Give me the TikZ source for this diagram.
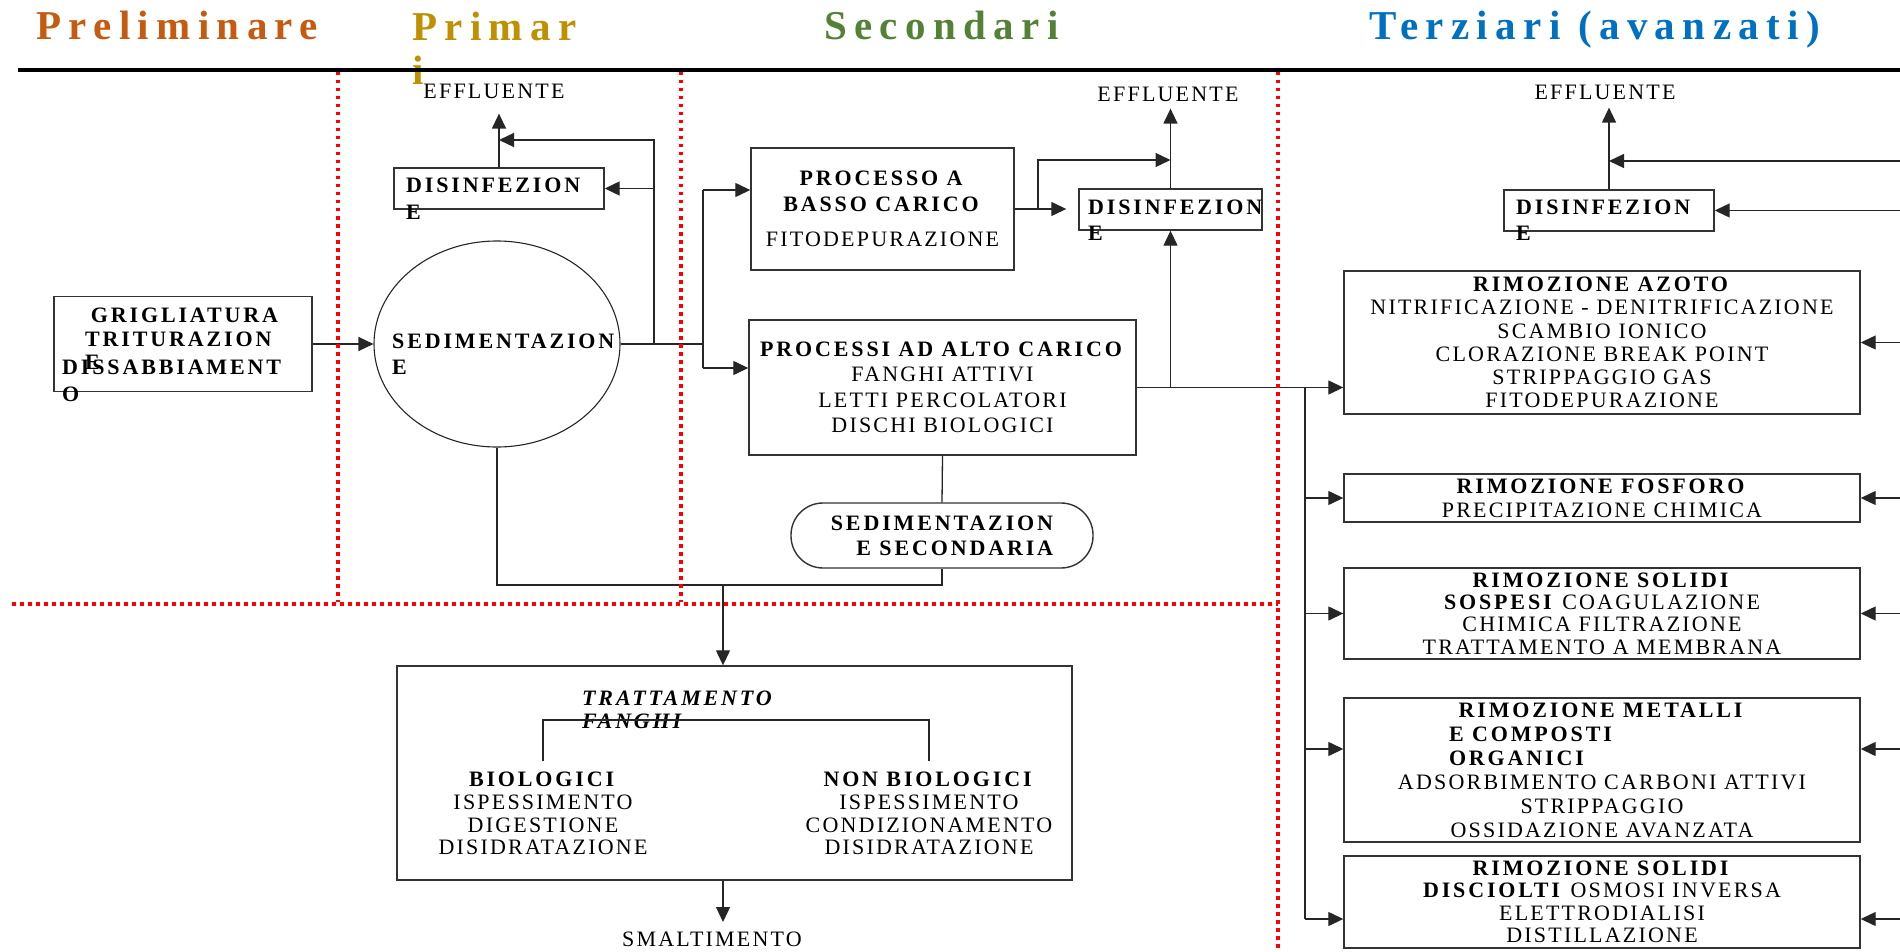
\documentclass[tikz,border=0pt]{standalone}
\usepackage{fontspec}
\setmainfont[LetterSpace=10, BoldFeatures={LetterSpace=13}, BoldItalicFeatures={LetterSpace=13}]{Liberation Serif}
\newfontfamily\titlefont[LetterSpace=18]{Liberation Serif}
\usetikzlibrary{arrows.meta,shapes.geometric,positioning}
\definecolor{wworange}{HTML}{C55A11}
\definecolor{wwgold}{HTML}{BF9000}
\definecolor{wwgreen}{HTML}{538135}
\definecolor{wwblue}{HTML}{0070C0}
\newcommand{\bodyfs}[1]{\fontsize{22}{#1}\selectfont}

\begin{document}
\begin{tikzpicture}[x=1pt, y=-1pt,
  phase/.style={font=\titlefont\bfseries\fontsize{41}{44}\selectfont, inner sep=0pt},
  box/.style={draw=black!80, line width=1.4pt, inner sep=0pt, align=center},
  lbl/.style={inner sep=0pt, align=center, font=\bodyfs{24}},
  conn/.style={draw=black!85, line width=1.3pt},
  arr/.style={conn, -{Triangle[length=15pt,width=14pt]}},
  divider/.style={draw=red, line width=3.5pt, dash pattern=on 3.5pt off 4.5pt}]
  \useasboundingbox (0,0) rectangle (1900,952);

  \node[phase, text=wworange, anchor=base west] (hprel) at (36,40) {Preliminare};
  \node[phase, text=wwgold, anchor=north west, align=left] (hprim) at (412,12) {Primar\\i};
  \node[phase, text=wwgreen, anchor=base west] (hsec) at (824,40) {Secondari};
  \node[phase, text=wwblue, anchor=base west] (hter) at (1369,40) {Terziari (avanzati)};
  \draw[line width=3.5pt] (18,70) -- (1900,70);

  \node[box, minimum width=258pt, minimum height=95pt] (grig) at (183,344) {};
  \node[lbl, font=\bodyfs{24}\bfseries, anchor=north] (grigA) at (184.5,308) {GRIGLIATURA};
  \node[lbl, font=\bodyfs{23}\bfseries, align=left, anchor=north west] (grigB) at (85,332) {TRITURAZION\\E};
  \node[lbl, font=\bodyfs{27}\bfseries, align=left, anchor=north west] (grigC) at (62,360) {DISSABBIAMENT\\O};

  \node[ellipse, draw=black!85, line width=1.1pt, minimum width=246pt, minimum height=206pt, inner sep=0pt] (sed) at (497,344) {};
  \node[lbl, font=\bodyfs{26}\bfseries, align=left, anchor=north west] (sedT) at (392,334) {SEDIMENTAZION\\E};

  \node[box, minimum width=210pt, minimum height=41pt] (dis1) at (499,188.5) {};
  \node[lbl, font=\bodyfs{27}\bfseries, align=left, anchor=north west] (dis1T) at (406,178) {DISINFEZION\\E};
  \node[lbl, anchor=north] (eff1) at (494,84) {EFFLUENTE};

  \node[box, font=\bodyfs{26}, minimum width=263pt, minimum height=122pt] (basso) at (882.5,209) {\textbf{PROCESSO A}\\\textbf{BASSO CARICO}\\[9pt]FITODEPURAZIONE};
  \node[box, font=\bodyfs{25.5}, minimum width=387pt, minimum height=135pt] (alto) at (942.5,387.5) {\textbf{PROCESSI AD ALTO CARICO}\\FANGHI ATTIVI\\LETTI PERCOLATORI\\DISCHI BIOLOGICI};
  \node[box, font=\bodyfs{25}\bfseries, align=right, rounded corners=32pt, minimum width=302pt, minimum height=65pt] (sedsec) at (942,535.5) {SEDIMENTAZION\\E SECONDARIA};

  \node[box, minimum width=183pt, minimum height=41pt] (dis2) at (1170.5,209.5) {};
  \node[lbl, font=\bodyfs{26}\bfseries, align=left, anchor=north west] (dis2T) at (1088,200) {DISINFEZION\\E};
  \node[lbl, anchor=north] (eff2) at (1168,87) {EFFLUENTE};

  \node[box, minimum width=675pt, minimum height=214pt] (tratt) at (734.5,773) {};
  \node[lbl, font=\bodyfs{23}\bfseries\itshape, align=left, anchor=north west] (trattT) at (582,691) {TRATTAMENTO\\FANGHI};
  \node[lbl, font=\bodyfs{22.7}, anchor=north] (bio) at (543,772) {\textbf{BIOLOGICI}\\ISPESSIMENTO\\DIGESTIONE\\DISIDRATAZIONE};
  \node[lbl, font=\bodyfs{22.7}, anchor=north] (nbio) at (929,772) {\textbf{NON BIOLOGICI}\\ISPESSIMENTO\\CONDIZIONAMENTO\\DISIDRATAZIONE};
  \node[lbl, anchor=north] (smalt) at (712,932) {SMALTIMENTO};

  \node[box, minimum width=210pt, minimum height=41pt] (dis3) at (1609,210.5) {};
  \node[lbl, font=\bodyfs{26}\bfseries, align=left, anchor=north west] (dis3T) at (1516,200) {DISINFEZION\\E};
  \node[lbl, anchor=north] (eff3) at (1605,85) {EFFLUENTE};

  \node[box, font=\bodyfs{23.2}, minimum width=516pt, minimum height=143pt] (azoto) at (1602,342.5) {\textbf{RIMOZIONE AZOTO}\\NITRIFICAZIONE - DENITRIFICAZIONE\\SCAMBIO IONICO\\CLORAZIONE BREAK POINT\\STRIPPAGGIO GAS\\FITODEPURAZIONE};
  \node[box, font=\bodyfs{24}, minimum width=516pt, minimum height=48pt] (fosforo) at (1602,498) {\textbf{RIMOZIONE FOSFORO}\\PRECIPITAZIONE CHIMICA};
  \node[box, font=\bodyfs{22.3}, minimum width=516pt, minimum height=91pt] (sospesi) at (1602,613.5) {\textbf{RIMOZIONE SOLIDI}\\\textbf{SOSPESI} COAGULAZIONE\\CHIMICA FILTRAZIONE\\TRATTAMENTO A MEMBRANA};
  \node[box, font=\bodyfs{24}, minimum width=516pt, minimum height=144pt] (metalli) at (1602,770) {\textbf{RIMOZIONE METALLI}\\\makebox[306pt][l]{\textbf{E COMPOSTI}}\\\makebox[306pt][l]{\textbf{ORGANICI}}\\ADSORBIMENTO CARBONI ATTIVI\\STRIPPAGGIO\\OSSIDAZIONE AVANZATA};
  \node[box, font=\bodyfs{22.5}, minimum width=516pt, minimum height=92pt] (disciolti) at (1602,902) {\textbf{RIMOZIONE SOLIDI}\\\textbf{DISCIOLTI} OSMOSI INVERSA\\ELETTRODIALISI\\DISTILLAZIONE};

  \coordinate (j1) at (654,344);
  \coordinate (j2) at (703,344);
  \coordinate (k1) at (499,140);
  \coordinate (b1) at (703,190);
  \coordinate (b2) at (703,368);
  \coordinate (j3) at (1038,209);
  \coordinate (k2) at (1170.5,160);
  \coordinate (k3) at (1609,161);
  \coordinate (fj) at (723,585);
  \coordinate (tf) at (735,720);
  \coordinate (bus) at (1305,387.5);
  \coordinate (m1) at (1305,749);
  \coordinate (busend) at (1305,919);
  \coordinate (edge) at (1900,0);

  \draw[arr] (grig.east) -- (sed.west);
  \draw[conn] (sed.east) -- (j2);
  \draw[arr] (j1) |- (k1);
  \draw[arr] (j1 |- dis1.east) -- (dis1.east);
  \draw[arr, shorten >=14.6pt] (dis1.north) -- (dis1.north |- eff1.south);
  \draw[conn] (b1) -- (b2);
  \draw[arr] (b1) -- (b1 -| basso.west);
  \draw[arr] (b2) -- (b2 -| alto.west);
  \draw[arr, shorten >=12pt] (basso.east) -- (basso.east -| dis2.west);
  \draw[arr] (j3) |- (k2);
  \draw[arr, shorten >=6.6pt] (dis2.north) -- (dis2.north |- eff2.south);
  \draw[arr] (alto.east -| dis2.south) -- (dis2.south);
  \draw[arr] (alto.east) -- (alto.east -| azoto.west);
  \draw[conn] (alto.south) -- (sedsec.north);
  \draw[conn] (sed.south) -- (sed.south |- fj) -| (sedsec.south);
  \draw[arr] (fj) -- (fj |- tratt.north);
  \draw[conn, shorten <=11pt, shorten >=11pt] (bio.north) |- (tf) -| (nbio.north);
  \draw[arr, shorten >=10pt] (tratt.south -| fj) -- (fj |- smalt.north);

  \draw[conn] (bus) -- (busend);
  \draw[arr] (fosforo.west -| bus) -- (fosforo.west);
  \draw[arr] (sospesi.west -| bus) -- (sospesi.west);
  \draw[arr] (m1) -- (m1 -| metalli.west);
  \draw[arr] (busend) -- (busend -| disciolti.west);

  \draw[arr] (k3 -| edge) -- (k3);
  \draw[arr] (dis3.east -| edge) -- (dis3.east);
  \draw[arr, shorten >=7.6pt] (dis3.north) -- (dis3.north |- eff3.south);
  \draw[arr] (azoto.east -| edge) -- (azoto.east);
  \draw[arr] (fosforo.east -| edge) -- (fosforo.east);
  \draw[arr] (sospesi.east -| edge) -- (sospesi.east);
  \draw[arr] (m1 -| edge) -- (m1 -| metalli.east);
  \draw[arr] (busend -| edge) -- (busend -| disciolti.east);

  \draw[divider] (338,72) -- (338,602);
  \draw[divider] (681,72) -- (681,602);
  \draw[divider] (1278,72) -- (1278,952);
  \draw[divider] (12,604) -- (1278,604);
\end{tikzpicture}
\end{document}
